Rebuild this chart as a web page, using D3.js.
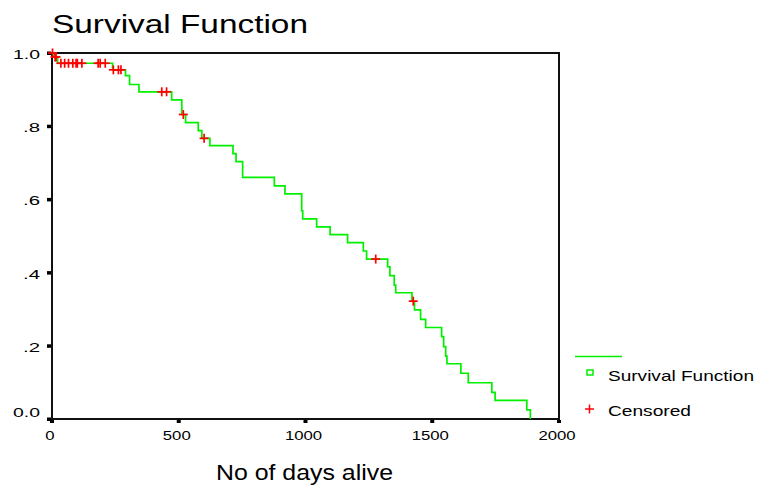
<!DOCTYPE html>
<html>
<head>
<meta charset="utf-8">
<script src="https://cdn.jsdelivr.net/npm/d3@7"></script>
<style>
  body { margin: 0; background: #fff; }
  svg { display: block; font-family: "Liberation Sans", Arial, sans-serif; }
</style>
</head>
<body>
<svg id="chart" width="757" height="490"></svg>
<script>
// step events: day of event and survival just after it
const eventDays = [0, 8, 22, 239, 290, 306, 343, 472, 512, 527, 577, 591, 623, 714, 726, 752,
  877, 919, 985, 989, 1044, 1097, 1166, 1228, 1241, 1324, 1333, 1350, 1356, 1420, 1430,
  1454, 1474, 1537, 1545, 1553, 1558, 1613, 1642, 1735, 1748, 1873, 1887];
const eventSurvival = [1.0, 0.989, 0.972, 0.954, 0.938, 0.914, 0.894, 0.872, 0.832, 0.810, 0.788,
  0.767, 0.747, 0.725, 0.703, 0.660, 0.637, 0.615, 0.569, 0.547, 0.525, 0.504, 0.482, 0.459,
  0.437, 0.416, 0.392, 0.366, 0.345, 0.322, 0.298, 0.272, 0.250, 0.225, 0.198, 0.172, 0.151,
  0.125, 0.099, 0.073, 0.051, 0.025, 0.0];

// censored cases
const censorDays = [2, 12, 16, 35, 50, 65, 82, 95, 100, 118, 182, 190, 210, 242, 262, 272,
  433, 452, 518, 600, 1277, 1425];
const censorSurvival = [1.0, 0.989, 0.989, 0.972, 0.972, 0.972, 0.972, 0.972, 0.972, 0.972,
  0.972, 0.972, 0.972, 0.954, 0.954, 0.954, 0.894, 0.894, 0.832, 0.767, 0.437, 0.322];

const xTicks = [0, 500, 1000, 1500, 2000];
const yTicks = [0, 0.2, 0.4, 0.6, 0.8, 1.0];
const yTickLabels = ["0.0", ".2", ".4", ".6", ".8", "1.0"];

const svg = d3.select('#chart');
const plotLeft = 52, plotRight = 559, plotTop = 53, plotBottom = 419;

const x = d3.scaleLinear().domain([0, 2000]).range([plotLeft, plotRight]);
const y = d3.scaleLinear().domain([0, 1]).range([plotBottom, plotTop]);

// stretched text like the original renderer
function fit(sel, len) {
  sel.attr('textLength', len).attr('lengthAdjust', 'spacingAndGlyphs');
}

// title
svg.append('text')
  .attr('x', 52).attr('y', 33)
  .attr('font-size', 25)
  .text('Survival Function')
  .call(fit, 256);

// plot frame
svg.append('rect')
  .attr('x', plotLeft).attr('y', plotTop)
  .attr('width', plotRight - plotLeft).attr('height', plotBottom - plotTop)
  .attr('fill', 'none').attr('stroke', '#111').attr('stroke-width', 2);

// y ticks + labels
const yg = svg.append('g');
yg.selectAll('rect').data(yTicks).enter().append('rect')
  .attr('x', plotLeft - 5).attr('y', d => y(d) - 1.5)
  .attr('width', 4).attr('height', 3.5).attr('fill', '#000');
yg.selectAll('text').data(yTicks).enter().append('text')
  .attr('x', 40)
  .attr('y', d => d === 0 ? y(d) - 2 : y(d) + 6)
  .attr('text-anchor', 'end')
  .attr('font-size', 13)
  .text((d, i) => yTickLabels[i])
  .each(function(d, i) {
    d3.select(this).call(fit, yTickLabels[i].length === 2 ? 17 : 27);
  });

// x ticks + labels
const xg = svg.append('g');
xg.selectAll('rect').data(xTicks).enter().append('rect')
  .attr('x', d => x(d) - 2).attr('y', plotBottom + 1)
  .attr('width', 4).attr('height', 3).attr('fill', '#000');
xg.selectAll('text').data(xTicks).enter().append('text')
  .attr('x', d => x(d) - 2)
  .attr('y', 440)
  .attr('text-anchor', 'middle')
  .attr('font-size', 12.5)
  .text(d => d)
  .each(function(d) {
    d3.select(this).call(fit, String(d).length * 9.3);
  });

svg.append('text')
  .attr('x', 216).attr('y', 480)
  .attr('font-size', 22)
  .text('No of days alive')
  .call(fit, 177);

// survival step line
const pts = eventDays.map((d, i) => [d, eventSurvival[i]]);
const line = d3.line()
  .x(d => x(d[0]))
  .y(d => y(d[1]))
  .curve(d3.curveStepAfter);

svg.append('path')
  .datum(pts)
  .attr('d', line)
  .attr('fill', 'none')
  .attr('stroke', '#00f000')
  .attr('stroke-width', 1.7);

// censored marks
const cross = 4.5;
const cg = svg.append('g').attr('stroke', '#ff0000').attr('stroke-width', 1.7);
censorDays.forEach((d, i) => {
  const cx = x(d), cy = y(censorSurvival[i]);
  cg.append('line').attr('x1', cx - cross).attr('x2', cx + cross).attr('y1', cy).attr('y2', cy);
  cg.append('line').attr('x1', cx).attr('x2', cx).attr('y1', cy - cross).attr('y2', cy + cross);
});

// legend
const lg = svg.append('g');
lg.append('line')
  .attr('x1', 575).attr('x2', 622).attr('y1', 356.5).attr('y2', 356.5)
  .attr('stroke', '#00f000').attr('stroke-width', 1.5);
lg.append('rect')
  .attr('x', 587).attr('y', 370).attr('width', 6).attr('height', 5)
  .attr('fill', 'none').attr('stroke', '#00f000').attr('stroke-width', 1.5);
lg.append('text')
  .attr('x', 608).attr('y', 381)
  .attr('font-size', 15)
  .text('Survival Function')
  .call(fit, 146);
lg.append('line').attr('x1', 585).attr('x2', 594).attr('y1', 409).attr('y2', 409)
  .attr('stroke', '#ff0000').attr('stroke-width', 1.5);
lg.append('line').attr('x1', 589.5).attr('x2', 589.5).attr('y1', 404.5).attr('y2', 413.5)
  .attr('stroke', '#ff0000').attr('stroke-width', 1.5);
lg.append('text')
  .attr('x', 608).attr('y', 416)
  .attr('font-size', 15)
  .text('Censored')
  .call(fit, 83);
</script>
</body>
</html>
